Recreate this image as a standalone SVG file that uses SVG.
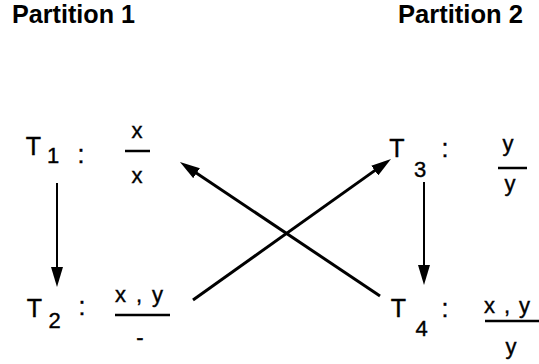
<svg xmlns="http://www.w3.org/2000/svg" width="539" height="364" viewBox="0 0 539 364">
<style>
.hdr{font-family:"Liberation Sans",Arial,sans-serif;font-weight:bold;font-size:25px;fill:#000}
.t{font-family:"Liberation Sans",Arial,sans-serif;font-size:25px;fill:#000;stroke:#000;stroke-width:0.4;text-anchor:middle}
.s{font-family:"Liberation Sans",Arial,sans-serif;font-size:22px;fill:#000;stroke:#000;stroke-width:0.4;text-anchor:middle}
.f{font-family:"Liberation Sans",Arial,sans-serif;font-size:22px;fill:#000;stroke:#000;stroke-width:0.4;text-anchor:middle}
.bar{stroke:#000;stroke-width:2.5}
.conn{stroke:#000;fill:none}
</style>
<defs>
<marker id="ah" markerUnits="userSpaceOnUse" markerWidth="22" markerHeight="12" refX="12" refY="6" orient="auto">
<path d="M0,0 L20,6 L0,12 z" fill="#000"/>
</marker>
</defs>
<text class="hdr" x="12" y="23" textLength="123" lengthAdjust="spacingAndGlyphs">Partition 1</text>
<text class="hdr" x="398" y="23" textLength="125" lengthAdjust="spacingAndGlyphs">Partition 2</text>
<g id="T1">
<text class="t" x="33.5" y="155">T</text>
<text class="s" x="53" y="163">1</text>
<text class="t" x="81" y="163">:</text>
<text class="f" x="137" y="138">x</text>
<line class="bar" x1="125" y1="151" x2="150" y2="151"/>
<text class="f" x="137" y="183">x</text>
</g>
<g id="T2">
<text class="t" x="34.5" y="317">T</text>
<text class="s" x="54.5" y="328">2</text>
<text class="t" x="82" y="315">:</text>
<text class="f" x="139" y="302" textLength="48" lengthAdjust="spacing">x , y</text>
<line class="bar" x1="115" y1="315" x2="170" y2="315" stroke-width="3"/>
<text class="f" x="140" y="345">-</text>
</g>
<g id="T3">
<text class="t" x="397" y="157">T</text>
<text class="s" x="420" y="177">3</text>
<text class="t" x="445" y="157">:</text>
<text class="f" x="508" y="151">y</text>
<line class="bar" x1="498" y1="168" x2="527" y2="168"/>
<text class="f" x="510" y="191">y</text>
</g>
<g id="T4">
<text class="t" x="398.5" y="317">T</text>
<text class="s" x="421.5" y="336">4</text>
<text class="t" x="445" y="317">:</text>
<text class="f" x="507" y="313" textLength="46" lengthAdjust="spacing">x , y</text>
<line class="bar" x1="485" y1="321" x2="539" y2="321" stroke-width="3"/>
<text class="f" x="511" y="354">y</text>
</g>
<g id="connectors">
<line class="conn" x1="57" y1="183" x2="57" y2="279" stroke-width="2" marker-end="url(#ah)"/>
<line class="conn" x1="424" y1="182" x2="424" y2="277" stroke-width="2" marker-end="url(#ah)"/>
<line class="conn" x1="193" y1="300" x2="384.5" y2="163.6" stroke-width="3" marker-end="url(#ah)"/>
<line class="conn" x1="380" y1="296" x2="186.6" y2="166.5" stroke-width="3" marker-end="url(#ah)"/>
</g>
</svg>
